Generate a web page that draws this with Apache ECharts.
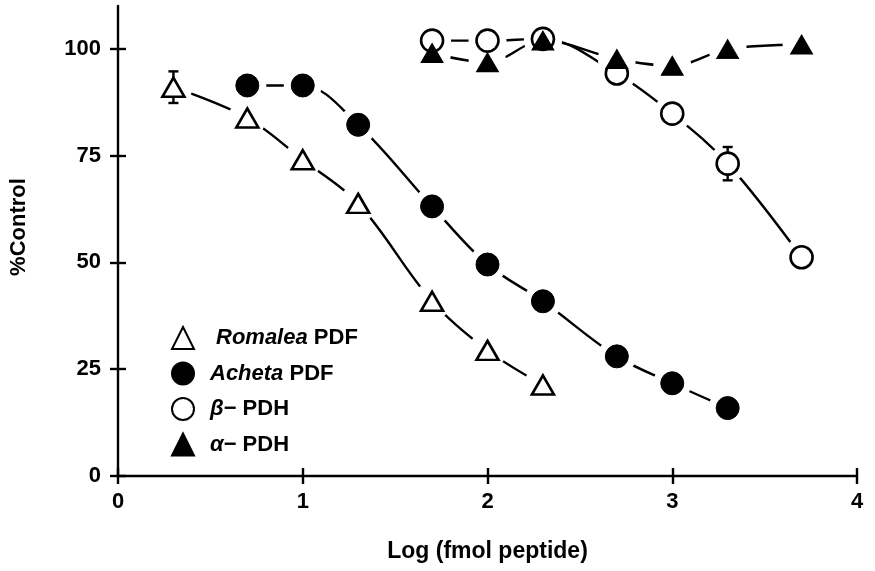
<!DOCTYPE html>
<html>
<head>
<meta charset="utf-8">
<script src="https://cdn.jsdelivr.net/npm/echarts@6/dist/echarts.min.js"></script>
<style>
  html, body { margin: 0; padding: 0; background: #fff; }
  #chart { width: 875px; height: 571px; }
</style>
</head>
<body>
<div id="chart"></div>
<script>
// Log (fmol peptide) doses and responses (% of control) for each peptide
const xRomalea = [0.3, 0.7, 1.0, 1.3, 1.7, 2.0, 2.3];
const yRomalea = [91.0, 83.8, 74.0, 63.8, 40.9, 29.4, 21.3];
const eRomalea = [3.7, 0, 0, 0, 0, 0, 0];

const xAcheta = [0.7, 1.0, 1.3, 1.7, 2.0, 2.3, 2.7, 3.0, 3.3];
const yAcheta = [91.4, 91.4, 82.2, 63.1, 49.5, 40.9, 28.0, 21.7, 15.9];

const xBeta = [1.7, 2.0, 2.3, 2.7, 3.0, 3.3, 3.7];
const yBeta = [101.9, 101.9, 102.3, 94.2, 84.8, 73.1, 51.2];
const eBeta = [0, 0, 0, 0, 0, 3.9, 0];

const xAlpha = [1.7, 2.0, 2.3, 2.7, 3.0, 3.3, 3.7];
const yAlpha = [99.0, 96.8, 101.9, 97.6, 96.0, 99.9, 101.0];

const xTicks = [0, 1, 2, 3, 4];
const yTicks = [0, 25, 50, 75, 100];

const seriesNames = ['Romalea PDF', 'Acheta PDF', 'β− PDH', 'α− PDH'];
const legendText = {
  'Romalea PDF': '{ir|Romalea} PDF',
  'Acheta PDF': '{i|Acheta} PDF',
  'β− PDH': '{i|β}− PDH',
  'α− PDH': '{i|α}− PDH'
};

const FONT = '"Liberation Sans", Arial, Helvetica, sans-serif';
const INK = '#000';

function pairs(xs, ys) { return xs.map((x, i) => [x, ys[i]]); }
function errTriples(xs, ys, es) {
  return xs.map((x, i) => [x, ys[i], es[i]]).filter(d => d[2] > 0);
}

// Connecting curve; the white halo symbols leave a gap around each marker
function curve(name, data) {
  return {
    type: 'line', name: name + ' curve', data: data, smooth: 0.35,
    symbol: 'circle', symbolSize: 38, showAllSymbol: true,
    itemStyle: { color: '#fff', borderWidth: 0, opacity: 1 },
    lineStyle: { color: INK, width: 2.4 },
    z: 2, silent: true, legendHoverLink: false
  };
}

function markers(name, data, symbol, filled, size) {
  return {
    type: 'scatter', name: name, data: data, symbol: symbol, symbolSize: size,
    itemStyle: filled ? { color: INK, borderColor: INK, borderWidth: 1, opacity: 1 }
                      : { color: '#fff', borderColor: INK, borderWidth: 2.6, opacity: 1 },
    z: 6, silent: true
  };
}

function errorBars(data) {
  return {
    type: 'custom', data: data, z: 4, silent: true,
    renderItem: function (params, api) {
      const x = api.value(0), y = api.value(1), e = api.value(2);
      const top = api.coord([x, y + e]);
      const bot = api.coord([x, y - e]);
      const half = 5;
      const st = { stroke: INK, lineWidth: 2.4 };
      return {
        type: 'group',
        children: [
          { type: 'line', shape: { x1: top[0], y1: top[1], x2: bot[0], y2: bot[1] }, style: st },
          { type: 'line', shape: { x1: top[0] - half, y1: top[1], x2: top[0] + half, y2: top[1] }, style: st },
          { type: 'line', shape: { x1: bot[0] - half, y1: bot[1], x2: bot[0] + half, y2: bot[1] }, style: st }
        ]
      };
    }
  };
}

const chart = echarts.init(document.getElementById('chart'), null, { renderer: 'canvas' });

const axisLineStyle = { color: INK, width: 2.4 };

chart.setOption({
  animation: false,
  backgroundColor: '#fff',
  textStyle: { fontFamily: FONT },
  grid: { left: 116, right: 18, top: 6, bottom: 95 },
  xAxis: [
    {
      type: 'value', min: 0, max: 4, interval: 1, position: 'bottom',
      axisLine: { show: true, lineStyle: axisLineStyle },
      axisTick: { show: true, length: 8, lineStyle: axisLineStyle },
      axisLabel: { show: true, color: INK, fontSize: 22, fontWeight: 'bold', fontFamily: FONT, margin: 15,
                   customValues: xTicks },
      splitLine: { show: false },
      name: 'Log (fmol peptide)', nameLocation: 'middle', nameGap: 64,
      nameTextStyle: { color: INK, fontSize: 23, fontWeight: 'bold', fontFamily: FONT }
    },
    {
      type: 'value', min: 0, max: 4, interval: 1, position: 'bottom',
      axisLine: { show: false },
      axisTick: { show: true, inside: true, length: 8, lineStyle: axisLineStyle, customValues: xTicks },
      axisLabel: { show: false }, splitLine: { show: false }
    }
  ],
  yAxis: [
    {
      type: 'value', min: 0, max: 110, interval: 25, position: 'left',
      axisLine: { show: true, lineStyle: axisLineStyle },
      axisTick: { show: true, length: 8, lineStyle: axisLineStyle, customValues: yTicks },
      axisLabel: { show: true, color: INK, fontSize: 22, fontWeight: 'bold', fontFamily: FONT, margin: 17,
                   customValues: yTicks },
      splitLine: { show: false },
      name: '%Control', nameLocation: 'middle', nameGap: 88, nameRotate: 90,
      nameTextStyle: { color: INK, fontSize: 22, fontWeight: 'bold', fontFamily: FONT, padding: [0, 0, 0, 28] }
    },
    {
      type: 'value', min: 0, max: 110, interval: 25, position: 'left',
      axisLine: { show: false },
      axisTick: { show: true, inside: true, length: 8, lineStyle: axisLineStyle, customValues: yTicks },
      axisLabel: { show: false }, splitLine: { show: false }
    }
  ],
  legend: {
    data: seriesNames,
    orient: 'vertical', left: 171, top: 326, padding: 0,
    itemWidth: 22, itemHeight: 22, itemGap: 11.5,
    selectedMode: false,
    formatter: function (name) { return legendText[name]; },
    textStyle: {
      color: INK, fontSize: 22, lineHeight: 22, fontWeight: 'bold', fontFamily: FONT, padding: [0, 0, 0, 11],
      rich: {
        i: { fontStyle: 'italic', fontWeight: 'bold', fontSize: 22, lineHeight: 22, fontFamily: FONT, color: INK },
        ir: { fontStyle: 'italic', fontWeight: 'bold', fontSize: 22, lineHeight: 22, fontFamily: FONT, color: INK, padding: [0, 0, 0, 6] }
      }
    }
  },
  series: [
    curve('Romalea PDF', pairs(xRomalea, yRomalea)),
    curve('Acheta PDF', pairs(xAcheta, yAcheta)),
    curve('β− PDH', pairs(xBeta, yBeta)),
    curve('α− PDH', pairs(xAlpha, yAlpha)),
    errorBars(errTriples(xRomalea, yRomalea, eRomalea)),
    errorBars(errTriples(xBeta, yBeta, eBeta)),
    markers('Romalea PDF', pairs(xRomalea, yRomalea), 'triangle', false, [22, 19]),
    markers('Acheta PDF', pairs(xAcheta, yAcheta), 'circle', true, 23),
    markers('β− PDH', pairs(xBeta, yBeta), 'circle', false, 22),
    markers('α− PDH', pairs(xAlpha, yAlpha), 'triangle', true, [22, 19])
  ]
});
</script>
</body>
</html>
